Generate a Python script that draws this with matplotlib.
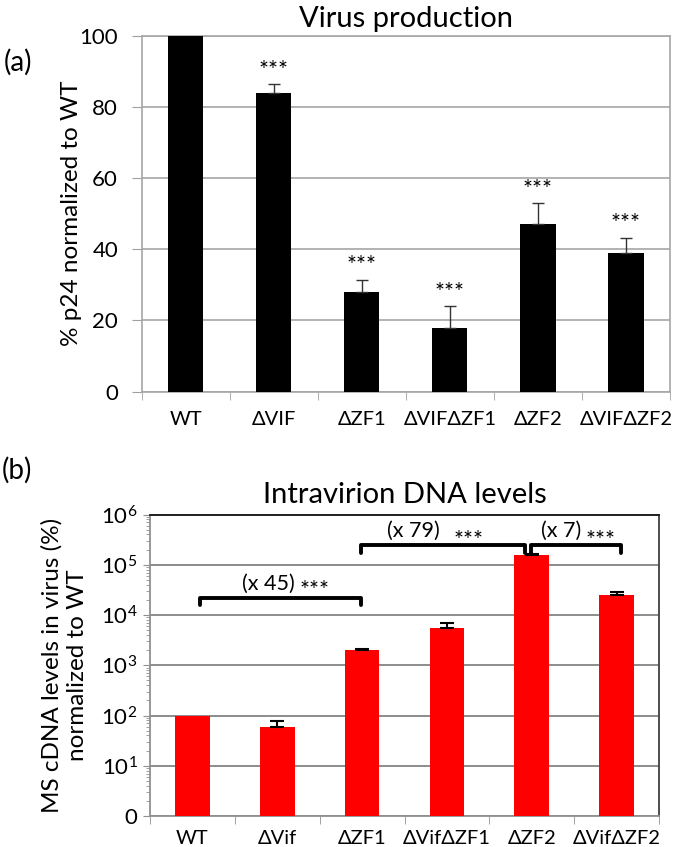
import matplotlib
matplotlib.use("Agg")
import matplotlib.pyplot as plt
import numpy as np
from matplotlib.ticker import FixedLocator, LogLocator, NullFormatter

plt.rcParams['font.family'] = ['Lato', 'DejaVu Sans']
plt.rcParams['mathtext.fontset'] = 'custom'
plt.rcParams['mathtext.rm'] = 'Lato'

# ---- data panel (a)
cats_a = ["WT", "ΔVIF", "ΔZF1", "ΔVIFΔZF1", "ΔZF2", "ΔVIFΔZF2"]
p24 = [100, 84, 28, 18, 47, 39]
p24_err = [0, 2.5, 3.5, 6.0, 6.0, 4.3]
sig_a = ["", "***", "***", "***", "***", "***"]
yticks_a = [0, 20, 40, 60, 80, 100]

# ---- data panel (b)
cats_b = ["WT", "ΔVif", "ΔZF1", "ΔVifΔZF1", "ΔZF2", "ΔVifΔZF2"]
dna = [100, 60, 2050, 5400, 156000, 24500]
dna_err = [0, 16, 100, 1400, 7000, 4500]
yticks_b = [1, 10, 100, 1000, 1e4, 1e5, 1e6]
yticklabels_b = ["0", r"$\mathregular{10^{1}}$", r"$\mathregular{10^{2}}$", r"$\mathregular{10^{3}}$",
                 r"$\mathregular{10^{4}}$", r"$\mathregular{10^{5}}$", r"$\mathregular{10^{6}}$"]
brackets = [  # (left x, right x, bracket height)
    (0.09, 1.99, 10**4.34),
    (1.99, 3.92, 10**5.39),
    (3.99, 5.05, 10**5.39),
]
fold_labels = ["(x 45)", "(x 79)", "(x 7)"]
fold_label_pos = [(0.90, 10**4.62), (2.60, 10**5.68), (4.35, 10**5.68)]
star_label_pos = [(1.44, 10**4.60), (3.25, 10**5.60), (4.81, 10**5.60)]

W, H = 675, 847
fig = plt.figure(figsize=(W/100, H/100), dpi=100)

# ================= panel (a)
axa = fig.add_axes([141.7/W, 1-391.7/H, 528.3/W, 356/H])
xa = np.arange(len(cats_a))
axa.bar(xa, p24, width=0.4, color='black', zorder=3)
axa.errorbar(xa[1:], p24[1:], yerr=[np.zeros(5), p24_err[1:]], fmt='none',
             ecolor='#333333', elinewidth=1.0, capsize=4, capthick=1.0, zorder=4)
for i, s in enumerate(sig_a):
    if s:
        axa.text(xa[i], p24[i] + p24_err[i] + 2.0, s, ha='center', va='baseline', fontsize=17)
axa.set_xlim(-0.5, 5.5)
axa.set_ylim(0, 100)
axa.set_yticks(yticks_a)
axa.tick_params(axis='y', labelsize=16, length=7, color='#a0a0a0', pad=10)
axa.yaxis.grid(True, color='#a6a6a6', linewidth=1.2, zorder=0)
axa.set_axisbelow(True)
axa.set_xticks(xa)
axa.set_xticklabels(cats_a, fontsize=14.5)
axa.xaxis.set_minor_locator(FixedLocator(np.arange(-0.5, 6, 1)))
axa.tick_params(axis='x', which='major', length=0, pad=14)
axa.tick_params(axis='x', which='minor', length=6, color='#a0a0a0')
for sp in axa.spines.values():
    sp.set_color('#a6a6a6')
    sp.set_linewidth(1.2)
axa.set_ylabel("% p24 normalized to WT", fontsize=17.5)
axa.yaxis.set_label_coords(-0.113, 0.5)
axa.set_title("Virus production", fontsize=21, pad=6)
fig.text(18/W, 1-62/H, "(a)", fontsize=20, ha='center', va='center')

# ================= panel (b)
axb = fig.add_axes([150/W, 1-816/H, 509/W, 301.5/H])
xb = np.arange(len(cats_b))
axb.bar(xb, dna, width=0.41, color='#ff0000', zorder=3, bottom=0)
axb.set_yscale('log')
axb.errorbar(xb[1:], dna[1:], yerr=[np.zeros(5), dna_err[1:]], fmt='none',
             ecolor='black', elinewidth=1.5, capsize=5, capthick=1.5, zorder=4)
axb.set_xlim(-0.5, 5.5)
axb.set_ylim(1, 1e6)
axb.set_yticks(yticks_b)
axb.set_yticklabels(yticklabels_b)
axb.yaxis.set_minor_locator(LogLocator(base=10, subs=np.arange(2, 10)))
axb.yaxis.set_minor_formatter(NullFormatter())
axb.tick_params(axis='y', which='major', labelsize=16, length=5, color='#909090', pad=4)
axb.tick_params(axis='y', which='minor', length=3, color='#909090')
axb.yaxis.grid(True, which='major', color='#8c8c8c', linewidth=1.4, zorder=0)
axb.set_axisbelow(True)
axb.set_xticks(xb)
axb.set_xticklabels(cats_b, fontsize=14.5)
axb.xaxis.set_minor_locator(FixedLocator(np.arange(-0.5, 6, 1)))
axb.tick_params(axis='x', which='major', length=0, pad=10)
axb.tick_params(axis='x', which='minor', length=6, color='#909090')
axb.spines['left'].set_color('#909090')
axb.spines['bottom'].set_color('#909090')
axb.spines['top'].set_color('#1a1a1a')
axb.spines['right'].set_color('#404040')
for sp in axb.spines.values():
    sp.set_linewidth(1.3)

for (x0, x1, yb), fl, (fx, fy), (sx, sy) in zip(brackets, fold_labels, fold_label_pos, star_label_pos):
    ytip = yb / 10**0.15
    axb.plot([x0, x0, x1, x1], [ytip, yb, yb, ytip], color='black', lw=2.8,
             solid_joinstyle='round', solid_capstyle='round', zorder=5)
    axb.text(fx, fy, fl, ha='center', va='center', fontsize=15.5)
    axb.text(sx, sy / 10**0.12, "***", ha='center', va='center', fontsize=17)

axb.set_ylabel("MS cDNA levels in virus (%)\nnormalized to WT", fontsize=17.5, linespacing=1.25)
axb.yaxis.set_label_coords(-0.122, 0.5)
axb.set_title("Intravirion DNA levels", fontsize=21, pad=8)
fig.text(17/W, 1-470/H, "(b)", fontsize=20, ha='center', va='center')

fig.savefig("out.png", dpi=100)
